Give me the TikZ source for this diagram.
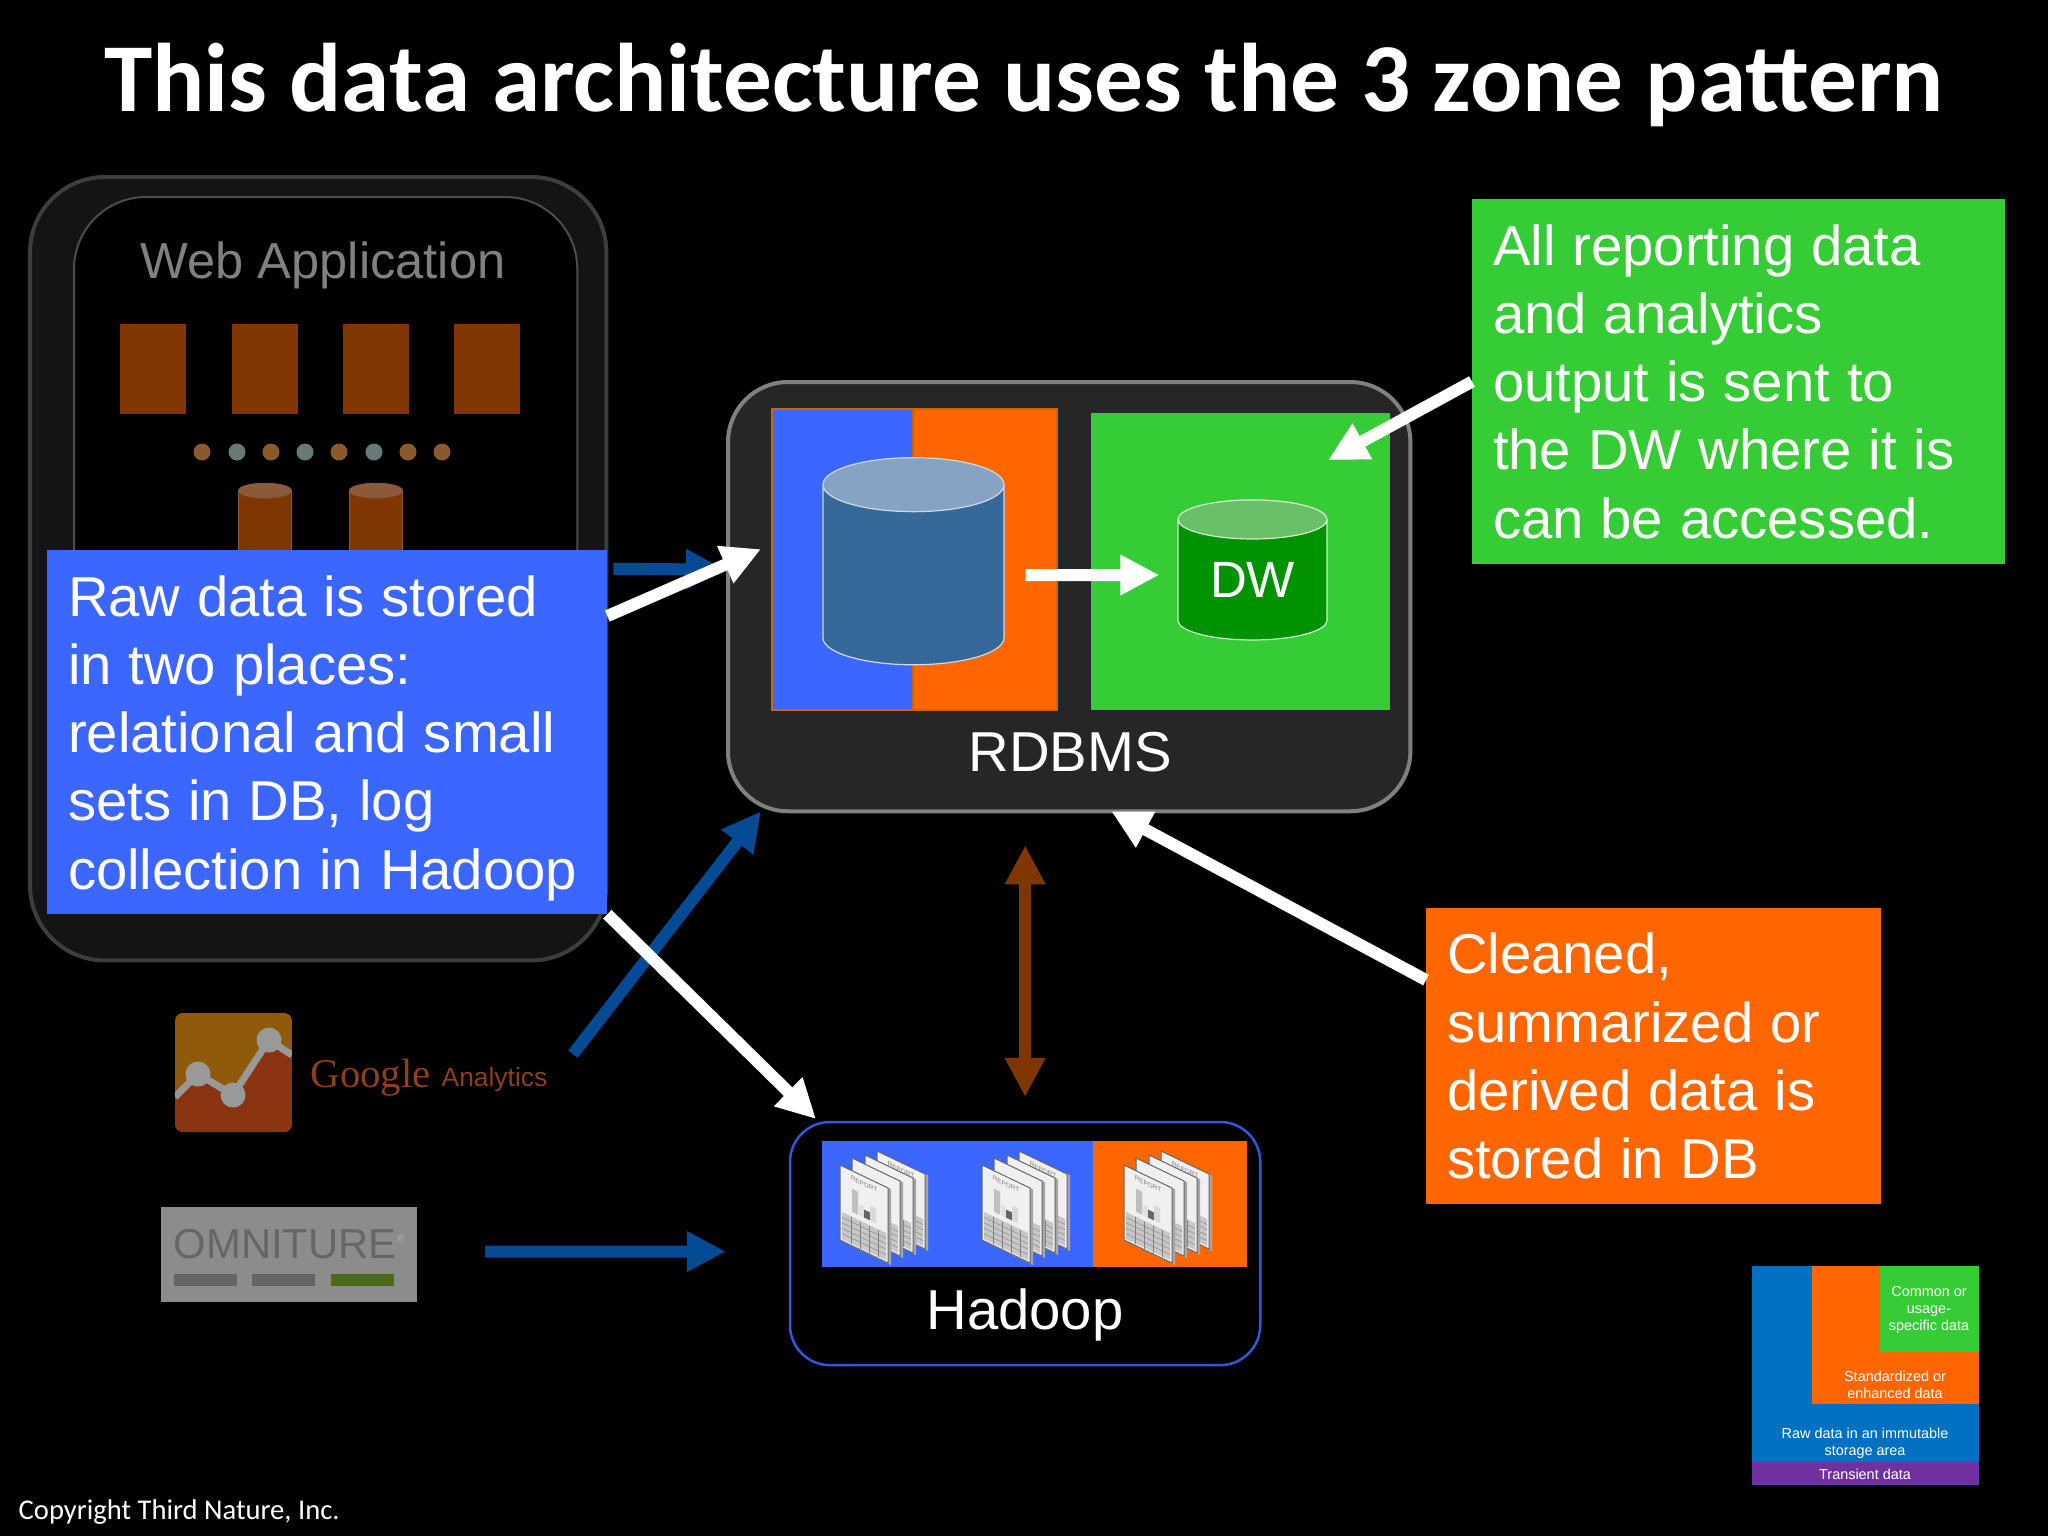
\documentclass[tikz,border=0pt]{standalone}
\usepackage{fontspec}
\setmainfont{Liberation Sans}
\newfontfamily\titlefont{Carlito}
\newfontfamily\seriffont{Liberation Serif}
\usetikzlibrary{arrows.meta,shapes.geometric}

\definecolor{zoneblue}{HTML}{3B66FF}
\definecolor{zoneorange}{HTML}{FF6600}
\definecolor{zonegreen}{HTML}{35CC35}
\definecolor{rust}{HTML}{7F3600}
\definecolor{rusttop}{HTML}{8A5A3A}
\definecolor{flowblue}{HTML}{044A94}
\definecolor{dbblue}{HTML}{36689A}
\definecolor{dbbluetop}{HTML}{86A3C3}
\definecolor{dbgreen}{HTML}{009200}
\definecolor{dbgreentop}{HTML}{69C069}
\definecolor{legendblue}{HTML}{0070C0}
\definecolor{legendpurple}{HTML}{7030A0}
\definecolor{dotbrown}{HTML}{8A5A2B}
\definecolor{dotgrey}{HTML}{667A78}
\definecolor{gaamber}{HTML}{8F5A0A}
\definecolor{gared}{HTML}{8A3412}
\definecolor{gatext}{HTML}{8F3F1A}
\definecolor{omnigrey}{HTML}{8C8C8C}
\definecolor{omnidark}{HTML}{666666}
\definecolor{omnigreen}{HTML}{4C6A1E}

\newcommand{\dbfill}{\phantom{\rule{.4cm}{.4cm}}}

\tikzset{
  box/.style={anchor=north west,inner sep=0pt,outer sep=0pt},
  note/.style={box,text=white,align=left,inner xsep=.21cm,
    font=\fontsize{16}{19.4}\selectfont,
    execute at begin node={\spaceskip=.3em\relax}},
  flatrect/.style={box,fill=#1,minimum width=\rw,minimum height=\rh},
  dbshape/.style={cylinder,shape border rotate=90,cylinder uses custom fill,inner sep=0pt},
  whitearrow/.style={white,line width=.12cm,-{Triangle[length=.39cm,width=.38cm]}},
  bluearrow/.style={flowblue,line width=.12cm,-{Triangle[length=.39cm,width=.38cm]}},
  brownarrow/.style={rust,line width=.12cm,{Triangle[length=.39cm,width=.38cm]}-{Triangle[length=.39cm,width=.38cm]}},
  legendtext/.style={text=white,align=center,inner sep=0pt,
    font=\fontsize{4.1}{4.9}\selectfont},
  report page/.pic={
    % sheet edge, then face
    \fill[gray!70] (48,23) -- (51,24) -- (51,100) -- (3,77) -- (0,75) -- (48,98) -- cycle;
    \draw[fill=black!6,draw=black!60,line width=.01cm] (0,0) -- (48,23) -- (48,98) -- (0,75) -- cycle;
    % table
    \fill[black!22] (2,47) -- (46,68) -- (46,95) -- (2,74) -- cycle;
    \foreach \i in {1,...,4}
      \draw[black!50,line width=.004cm] (2,{47+\i*5.4}) -- (46,{68+\i*5.4});
    \foreach \x in {11,20,29,38}
      \draw[black!50,line width=.004cm] (\x,{47+\x*.48}) -- (\x,{74+\x*.48});
    % bars
    \foreach \xa/\xb/\ytop/\c in {12/18/18/black!25,19/24/30/black!12,24/30/33/black!60,30/36/26/black!15}
      \fill[\c] (\xa,{\xa*.48+\ytop}) -- (\xb,{\xb*.48+\ytop}) -- (\xb,{\xb*.48+41}) -- (\xa,{\xa*.48+41}) -- cycle;
  },
  report labelled/.pic={
    \pic {report page};
    \node[yslant=-.48,inner sep=0pt,text=black!50,font=\fontsize{1.8}{2}\selectfont] (label) at (24,19) {REPORT};
  }
}

\begin{document}
\begin{tikzpicture}[x=.01cm,y=-.01cm]
  % --- page: coordinates are reference pixels, y runs down
  \fill[black,use as bounding box] (0,0) rectangle (2048,1536);

  \node[anchor=base,text=white,font=\titlefont\bfseries\fontsize{27.7}{34}\selectfont] (title) at (1024,111)
    {This data architecture uses the 3 zone pattern};
  \node[anchor=base west,inner sep=0pt,text=white,font=\titlefont\fontsize{8.13}{10}\selectfont] (copyright) at (18,1519)
    {Copyright Third Nature, Inc.};

  %---------------------------------------
  % web application, dimmed
  \node[box,fill=black!92,draw=black!76,line width=.04cm,rounded corners=.75cm,
    minimum width=5.76cm,minimum height=7.83cm] (web) at (30,177) {};
  \node[box,fill=black,draw=black!70,line width=.02cm,rounded corners=.72cm,
    minimum width=5.03cm,minimum height=5.5cm] (webinner) at (74,197) {};
  \node[anchor=base,inner sep=0pt,text=black!50,font=\fontsize{14.4}{17}\selectfont] (webtitle) at (323,278) {Web Application};

  \def\rw{.66cm}\def\rh{.9cm}
  \foreach \i/\x in {1/120,2/232,3/343,4/454}
    \node[flatrect=rust] (server\i) at (\x,324) {};

  \foreach \i/\x/\c in {1/202/dotbrown,2/237/dotgrey,3/271/dotbrown,4/305/dotgrey,5/339/dotbrown,6/374/dotgrey,7/408/dotbrown,8/442/dotbrown}
    \node[circle,fill=\c,inner sep=0pt,minimum size=.17cm] (dot\i) at (\x,452) {};

  \foreach \i/\x in {1/265,2/376}
    \node[dbshape,aspect=.375,cylinder body fill=rust,cylinder end fill=rusttop,draw=rusttop,line width=.006cm,
      minimum width=.53cm,minimum height=.95cm] (webdb\i) at (\x,534.5) {\dbfill};

  %---------------------------------------
  % RDBMS
  \node[box,fill=black!85,draw=black!50,line width=.04cm,rounded corners=.6cm,
    minimum width=6.82cm,minimum height=4.29cm] (rdbms) at (728,382) {};
  \def\rw{1.41cm}\def\rh{3.01cm}
  \node[flatrect=zoneblue,draw=orange!80!black,line width=.015cm] (rawzone) at (772,409) {};
  \def\rw{1.44cm}
  \node[flatrect=zoneorange,draw=orange!80!black,line width=.015cm] (stdzone) at (913,409) {};
  \def\rw{2.99cm}\def\rh{2.97cm}
  \node[flatrect=zonegreen] (dwzone) at (1091,413) {};
  \node[anchor=base,inner sep=0pt,text=white,font=\fontsize{16}{19}\selectfont] (rdbmslabel) at (1070,771) {RDBMS};

  \node[dbshape,aspect=1.35,cylinder body fill=dbblue,cylinder end fill=dbbluetop,draw=white!75!dbblue,line width=.012cm,
    minimum width=1.81cm,minimum height=2.07cm] (rawdb) at (913.5,575) {\dbfill};
  \node[dbshape,aspect=.46,cylinder body fill=dbgreen,cylinder end fill=dbgreentop,draw=white!75!zonegreen,line width=.012cm,
    minimum width=1.49cm,minimum height=1.4cm,text=white,font=\fontsize{14.5}{17}\selectfont] (dwdb) at (1252.5,580) {DW};

  %---------------------------------------
  % sources
  \begin{scope}
    \clip[rounded corners=.08cm] (175,1013) rectangle (292,1132);
    \fill[gaamber] (175,1013) rectangle (292,1132);
    \fill[gared] (175,1097) -- (198,1074) -- (233,1095) -- (269,1040) -- (292,1055) -- (292,1132) -- (175,1132) -- cycle;
    \draw[black!40,line width=.07cm] (175,1097) -- (198,1074) -- (233,1095) -- (269,1040) -- (292,1055);
    \foreach \x/\y in {198/1074,233/1095,269/1040}
      \fill[black!40] (\x,\y) circle (.125cm);
  \end{scope}
  \node[anchor=base west,inner sep=0pt,text=gatext,font=\seriffont\fontsize{11.6}{14}\selectfont] (google) at (310,1087) {Google};
  \node[anchor=base west,inner sep=0pt,text=gatext,font=\fontsize{7.5}{9}\selectfont] (analytics) at (441,1086) {Analytics};

  \node[box,fill=omnigrey,minimum width=2.56cm,minimum height=.95cm] (omniture) at (161,1207) {};
  \node[anchor=base west,inner sep=0pt,text=omnidark,font=\fontsize{11.9}{14}\selectfont] (omnitext) at (173,1258) {OMNITURE\textsuperscript{\fontsize{3}{3}\selectfont\color{black!30} ®}};
  \def\rw{.63cm}\def\rh{.12cm}
  \node[flatrect=omnidark] (omnibar1) at (174,1274) {};
  \node[flatrect=omnidark] (omnibar2) at (252,1274) {};
  \node[flatrect=omnigreen] (omnibar3) at (331,1274) {};

  %---------------------------------------
  % Hadoop
  \node[box,fill=black,draw=zoneblue!85!black,line width=.025cm,rounded corners=.4cm,
    minimum width=4.7cm,minimum height=2.43cm] (hadoop) at (790,1122) {};
  \def\rw{2.71cm}\def\rh{1.26cm}
  \node[flatrect=zoneblue] (hadoopraw) at (822,1141) {};
  \def\rw{1.54cm}
  \node[flatrect=zoneorange] (hadoopstd) at (1093,1141) {};
  \foreach \sx in {840,982,1124}{
    \pic (rep\sx-a) at ({\sx+37},1151) {report labelled};
    \pic (rep\sx-b) at ({\sx+25},1155) {report page};
    \pic (rep\sx-c) at ({\sx+12},1158) {report page};
    \pic (rep\sx-d) at (\sx,1165) {report labelled};
  }
  \node[anchor=base,inner sep=0pt,text=white,font=\fontsize{16}{19}\selectfont] (hadooplabel) at (1025,1329) {Hadoop};

  %---------------------------------------
  % flows that run behind the notes
  \draw[bluearrow] ([xshift=.07cm]web.east) -- ([xshift=-.03cm,yshift=.27cm]rdbms.west);
  \draw[bluearrow] ([xshift=.25cm,yshift=.25cm]analytics.east) -- ([xshift=.33cm]rdbms.south west);
  \draw[bluearrow] ([xshift=.68cm,yshift=.03cm]omniture.east) -- ([xshift=-.64cm,yshift=-.08cm]hadoop.west);
  \draw[brownarrow] ([xshift=-.44cm,yshift=-.34cm]rdbms.south) -- ([yshift=.25cm]hadoop.north);

  %---------------------------------------
  % notes
  \node[note,fill=zoneblue,text width=5.18cm,minimum height=3.64cm] (rawnote) at (47,550)
    {\rule{0pt}{15pt}Raw data is stored\\in two places:\\relational and small\\sets in DB, log\\collection in Hadoop};
  \node[note,fill=zonegreen,text width=4.91cm,minimum height=3.65cm] (dwnote) at (1472,199)
    {All reporting data\\and analytics\\output is sent to\\the DW where it is\\can be accessed.};
  \node[note,fill=zoneorange,text width=4.13cm,minimum height=2.96cm] (stdnote) at (1426,908)
    {Cleaned,\\summarized or\\derived data is\\stored in DB};

  % white flows
  \draw[whitearrow] ([yshift=1.16cm]rawnote.east) -- ([xshift=.33cm,yshift=.475cm]rdbms.west);
  \draw[whitearrow] (rawnote.south east) -- ([xshift=.26cm,yshift=.03cm]hadoop.north west);
  \draw[whitearrow] (dwnote.west) -- ([xshift=-.62cm,yshift=-.47cm]dwzone.north east);
  \draw[whitearrow] ([yshift=.76cm]stdnote.west) -- ([xshift=.42cm]rdbms.south);
  \draw[whitearrow] ([xshift=.21cm,yshift=0cm]rawdb.east) -- ([xshift=-.18cm,yshift=.05cm]dwdb.west);

  %---------------------------------------
  % zone legend
  \def\rw{2.27cm}\def\rh{1.97cm}
  \node[flatrect=legendblue] (legendraw) at (1752,1266) {};
  \def\rw{2.27cm}\def\rh{.23cm}
  \node[flatrect=legendpurple] (legendtransient) at (1752,1462) {};
  \def\rw{1.67cm}\def\rh{1.38cm}
  \node[flatrect=zoneorange] (legendstd) at (1812,1266) {};
  \def\rw{.99cm}\def\rh{.86cm}
  \node[flatrect=zonegreen] (legendcommon) at (1880,1266) {};
  \node[legendtext] (commontext) at (1929,1310) {Common or\\usage-\\specific data};
  \node[legendtext] (stdtext) at (1895,1385) {Standardized or\\enhanced data};
  \node[legendtext] (rawtext) at (1865,1443) {Raw data in an immutable\\storage area};
  \node[legendtext] (transienttext) at (1865,1474) {Transient data};
\end{tikzpicture}
\end{document}
